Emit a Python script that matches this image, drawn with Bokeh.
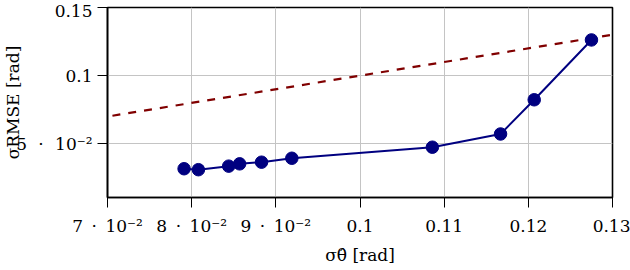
from bokeh.plotting import figure
from bokeh.models import Range1d, FixedTicker
from bokeh.embed import file_html
from bokeh.resources import INLINE

# --- data ---
sigma_theta = [0.0791, 0.0808, 0.0844, 0.0857, 0.0883, 0.0919, 0.1086, 0.1167, 0.1207, 0.1275]
sigma_rmse = [0.0317, 0.0310, 0.0336, 0.0353, 0.0365, 0.0394, 0.0475, 0.0572, 0.0823, 0.1262]
ref_x = [0.07, 0.13]
ref_y = [0.07, 0.13]
x_ticks = [0.07, 0.08, 0.09, 0.10, 0.11, 0.12, 0.13]
x_tick_labels = ["7\u2002·\u200210⁻²", "8\u2002·\u200210⁻²", "9\u2002·\u200210⁻²", "0.1", "0.11", "0.12", "0.13"]
y_ticks = [0.05, 0.10, 0.15]
y_tick_labels = ["5\u2002\u2006·\u2002\u200610⁻²", "0.1", "0.15"]
x_label = "σ\u03b8\u0302 [rad]"
y_label = "σRMSE [rad]"

FONT = "DejaVu Serif"
FS = "17px"

p = figure(width=630, height=270, output_backend="svg", toolbar_location=None,
           x_range=Range1d(0.07, 0.13), y_range=Range1d(0.0106, 0.15),
           min_border_left=106, min_border_right=18, min_border_top=7, min_border_bottom=73)
p.background_fill_color = "white"
p.border_fill_color = "white"
p.outline_line_color = "black"
p.outline_line_width = 1.6

for ax, ticks, labels in ((p.xaxis[0], x_ticks, x_tick_labels), (p.yaxis[0], y_ticks, y_tick_labels)):
    ax.ticker = FixedTicker(ticks=ticks)
    ax.major_label_overrides = dict(zip(ticks, labels))
    ax.minor_tick_line_color = None
    ax.major_tick_in = 0
    ax.major_tick_out = 10
    ax.major_tick_line_color = "black"
    ax.major_tick_line_width = 1
    ax.axis_line_color = "black"
    ax.axis_line_width = 1.6
    ax.major_label_text_font = FONT
    ax.major_label_text_font_size = FS
    ax.major_label_text_color = "black"
    ax.axis_label_text_font = FONT
    ax.axis_label_text_font_size = FS
    ax.axis_label_text_font_style = "normal"
    ax.axis_label_text_color = "black"
p.xaxis.major_label_standoff = 8
p.yaxis.major_label_standoff = 5
p.xaxis.axis_label = x_label
p.yaxis.axis_label = y_label
p.xaxis.axis_label_standoff = 6
p.yaxis.axis_label_standoff = -10

p.grid.grid_line_color = "#c4c4c4"
p.grid.grid_line_width = 1

p.line(ref_x, ref_y, line_color="#800000", line_width=2.2, line_dash="8 8", line_dash_offset=11)
p.line(sigma_theta, sigma_rmse, line_color="#000080", line_width=2)
p.scatter(sigma_theta, sigma_rmse, size=12.5, fill_color="#000080", line_color="#000080")

open("out.html", "w").write(file_html(p, INLINE))
